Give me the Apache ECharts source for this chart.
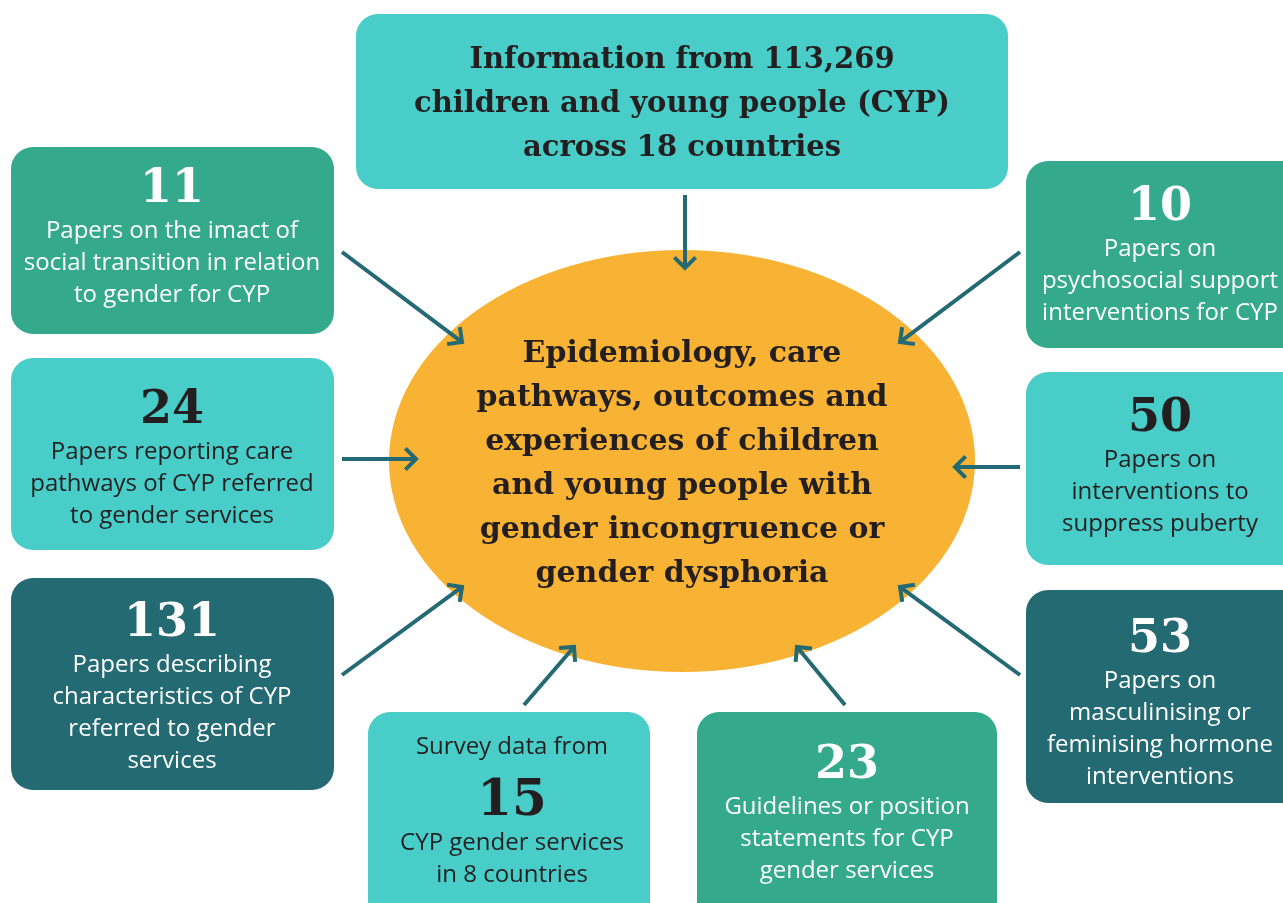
<!DOCTYPE html>
<html>
<head>
<meta charset="utf-8">
<script src="https://cdn.jsdelivr.net/npm/echarts@6/dist/echarts.min.js"></script>
<style>
  html, body { margin: 0; padding: 0; background: #fff; }
  #chart { width: 1283px; height: 903px; }
</style>
</head>
<body>
<div id="chart"></div>
<script>
// content of the diagram
const sourceLines = ['Information from 113,269', 'children and young people (CYP)', 'across 18 countries']
const hubLines = ['Epidemiology, care', 'pathways, outcomes and', 'experiences of children',
  'and young people with', 'gender incongruence or', 'gender dysphoria']
const paperCounts = ['11', '24', '131', '10', '50', '53', '15', '23']
const paperPrefix = ['', '', '', '', '', '', 'Survey data from', '']
const paperLabels = [
  ['Papers on the imact of', 'social transition in relation', 'to gender for CYP'],
  ['Papers reporting care', 'pathways of CYP referred', 'to gender services'],
  ['Papers describing', 'characteristics of CYP', 'referred to gender', 'services'],
  ['Papers on', 'psychosocial support', 'interventions for CYP'],
  ['Papers on', 'interventions to', 'suppress puberty'],
  ['Papers on', 'masculinising or', 'feminising hormone', 'interventions'],
  ['CYP gender services', 'in 8 countries'],
  ['Guidelines or position', 'statements for CYP', 'gender services']
]

// layout (page pixels, drawn through hidden 0..1283 x 0..903 axes)
const sourceRect = [356, 14, 1008, 189]
const boxRects = [
  [11, 147, 334, 334], [11, 358, 334, 550], [11, 578, 334, 790],
  [1026, 161, 1305, 348], [1026, 372, 1305, 565], [1026, 590, 1305, 803],
  [368, 712, 650, 930], [697, 712, 997, 930]
]
const textCenters = [
  [172, 238], [172, 459], [172, 688],
  [1160, 256], [1160, 467], [1160, 704],
  [512, 811], [847, 814]
]
const boxKinds = ['green', 'aqua', 'dark', 'green', 'aqua', 'dark', 'aqua', 'green']
const arrowFrom = [[685, 195], [342, 252], [342, 459], [342, 675], [524, 705], [845, 705], [1020, 675], [1020, 467], [1020, 252]]
const arrowTo = [[685, 268], [462, 342], [416, 459], [462, 587], [574, 647], [797, 647], [900, 587], [955, 467], [900, 342]]
const hubCenter = [682, 461]
const hubRadius = [293, 211]

const fills = { aqua: '#48CDC8', green: '#35A98C', dark: '#246A73' }
const inks = { aqua: '#231F20', green: '#ffffff', dark: '#ffffff' }
const serif = '"DejaVu Serif", "Liberation Serif", serif'
const sans = '"Open Sans", "Noto Sans", sans-serif'

const chart = echarts.init(document.getElementById('chart'))

function renderSource(params, api) {
  const p0 = api.coord([sourceRect[0], sourceRect[1]])
  const p1 = api.coord([sourceRect[2], sourceRect[3]])
  return {
    type: 'group',
    children: [
      { type: 'rect', shape: { x: p0[0], y: p0[1], width: p1[0] - p0[0], height: p1[1] - p0[1], r: 22 },
        style: { fill: fills.aqua } },
      { type: 'text', x: (p0[0] + p1[0]) / 2, y: (p0[1] + p1[1]) / 2 + 3,
        style: { text: sourceLines.join('\n'), align: 'center', verticalAlign: 'middle',
          font: 'bold 29px ' + serif, lineHeight: 44, fill: '#231F20' } }
    ]
  }
}

function renderBox(params, api) {
  const i = api.value(2)
  const r = boxRects[i]
  const p0 = api.coord([r[0], r[1]])
  const p1 = api.coord([r[2], r[3]])
  const c = api.coord(textCenters[i])
  const ink = inks[boxKinds[i]]
  let txt = ''
  if (paperPrefix[i]) txt += '{t|' + paperPrefix[i] + '}\n{nb|' + paperCounts[i] + '}'
  else txt += '{n|' + paperCounts[i] + '}'
  txt += '\n' + paperLabels[i].map(s => '{t|' + s + '}').join('\n')
  return {
    type: 'group',
    children: [
      { type: 'rect', shape: { x: p0[0], y: p0[1], width: p1[0] - p0[0], height: p1[1] - p0[1], r: 22 },
        style: { fill: fills[boxKinds[i]] } },
      { type: 'text', x: c[0], y: c[1],
        style: {
          text: txt, align: 'center', verticalAlign: 'middle',
          rich: {
            n: { fontFamily: serif, fontWeight: 'bold', fontSize: 46, lineHeight: 50, fill: ink, align: 'center' },
            nb: { fontFamily: serif, fontWeight: 'bold', fontSize: 50, lineHeight: 64, padding: [14, 0, 0, 0], fill: ink, align: 'center' },
            t: { fontFamily: sans, fontSize: 24, lineHeight: 32, fill: ink, align: 'center' }
          }
        } }
    ]
  }
}

function renderHub(params, api) {
  const c = api.coord(hubCenter)
  const e = api.coord([hubCenter[0] + hubRadius[0], hubCenter[1] + hubRadius[1]])
  const rx = e[0] - c[0], ry = e[1] - c[1]
  return {
    type: 'group',
    children: [
      { type: 'circle', x: c[0], y: c[1], scaleX: rx / ry, scaleY: 1,
        shape: { cx: 0, cy: 0, r: ry }, style: { fill: '#F8B334' } },
      { type: 'text', x: c[0], y: c[1] + 3,
        style: { text: hubLines.join('\n'), align: 'center', verticalAlign: 'middle',
          font: 'bold 30px ' + serif, lineHeight: 44, fill: '#231F20' } }
    ]
  }
}

function renderArrow(params, api) {
  const i = api.value(2)
  const a = api.coord(arrowFrom[i])
  const b = api.coord(arrowTo[i])
  const dx = b[0] - a[0], dy = b[1] - a[1]
  const len = Math.sqrt(dx * dx + dy * dy)
  const ux = dx / len, uy = dy / len
  const h = 15, k = Math.SQRT1_2
  // rotate the back direction by +/-45 deg for the chevron wings
  const w1 = [b[0] - h * (ux * k - uy * k), b[1] - h * (uy * k + ux * k)]
  const w2 = [b[0] - h * (ux * k + uy * k), b[1] - h * (uy * k - ux * k)]
  const st = { stroke: '#236A74', lineWidth: 4, fill: null }
  return {
    type: 'group',
    children: [
      { type: 'line', shape: { x1: a[0], y1: a[1], x2: b[0] - ux * 2, y2: b[1] - uy * 2 }, style: st },
      { type: 'polyline', shape: { points: [w1, b, w2] }, style: Object.assign({ lineJoin: 'miter' }, st) }
    ]
  }
}

chart.setOption({
  animation: false,
  grid: { left: 0, right: 0, top: 0, bottom: 0 },
  xAxis: { type: 'value', min: 0, max: 1283, show: false },
  yAxis: { type: 'value', min: 0, max: 903, inverse: true, show: false },
  series: [
    { type: 'custom', clip: false, renderItem: renderHub, data: [[hubCenter[0], hubCenter[1], 0]] },
    { type: 'custom', clip: false, renderItem: renderArrow,
      data: arrowFrom.map((p, i) => [p[0], p[1], i]) },
    { type: 'custom', clip: false, renderItem: renderSource, data: [[682, 100, 0]] },
    { type: 'custom', clip: false, renderItem: renderBox,
      data: paperCounts.map((c, i) => [textCenters[i][0], textCenters[i][1], i]) }
  ]
})
</script>
</body>
</html>
